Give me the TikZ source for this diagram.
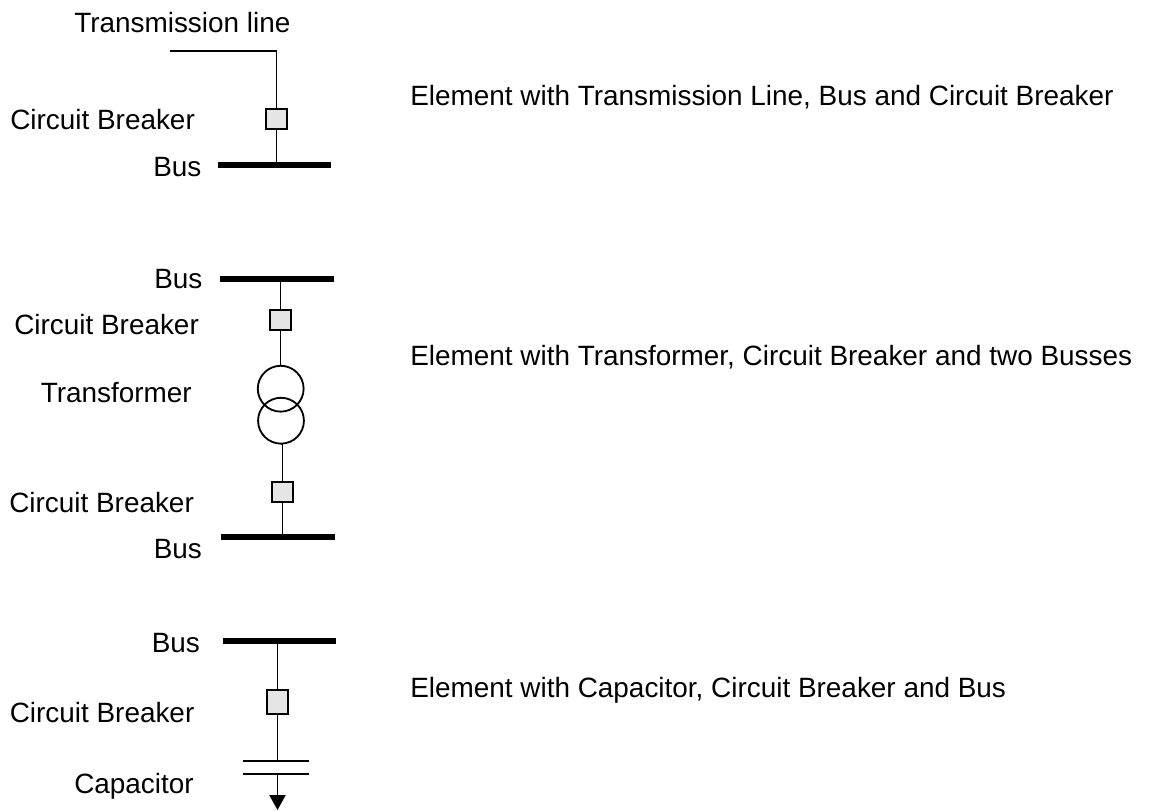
\documentclass[tikz,border=0pt]{standalone}
\usepackage{fontspec}
\setmainfont{Liberation Sans}
\usetikzlibrary{arrows.meta}
\tikzset{
  lbl/.style={anchor=base west,inner sep=0pt,font=\fontsize{19.85}{23}\selectfont},
  breaker/.style={draw,fill=black!10,line width=1.3pt,minimum width=14.6pt,minimum height=14.2pt,inner sep=0pt},
  busbar/.style={fill=black,inner sep=0pt,minimum width=80.5pt,minimum height=4pt},
  winding/.style={draw,circle,line width=1.3pt,minimum size=32.6pt,inner sep=0pt},
  wire/.style={line width=1.25pt}
}
\begin{document}
\begin{tikzpicture}[x=0.025cm,y=-0.025cm]
    \useasboundingbox (0,0) rectangle (1152,810);
    % transmission line element
    \coordinate (lineend) at (170,51);
    \coordinate (linecorner) at (276.5,51);
    \node[breaker] (cb1) at (276.5,119) {};
    \node[busbar] (bus1) at (274.5,165) {};
    \draw[wire] (lineend) -- (linecorner) -- (cb1);
    \draw[wire] (cb1) -- (cb1 |- bus1);
    \node[lbl] (t1) at (74,32.5) {Transmission line};
    \node[lbl] (c1) at (10,129) {Circuit Breaker};
    \node[lbl] (b1) at (153,176) {Bus};
    \node[lbl] (e1) at (410,105.5) {Element with Transmission Line, Bus and Circuit Breaker};
    % transformer element
    \node[busbar] (bus2) at (277,279) {};
    \node[breaker] (cb2) at (280.5,320) {};
    \node[winding] (w1) at (280.7,388.7) {};
    \node[winding] (w2) at (281,420.7) {};
    \node[breaker] (cb3) at (282.5,492) {};
    \node[busbar] (bus3) at (278,537) {};
    \draw[wire] (cb2 |- bus2) -- (cb2);
    \draw[wire] (cb2) -- (cb2 |- w1.north);
    \draw[wire] (w2.south) -- (w2.south -| cb3);
    \draw[wire] (w2.south -| cb3) -- (cb3);
    \draw[wire] (cb3) -- (cb3 |- bus3);
    \node[lbl] (b2) at (154,288) {Bus};
    \node[lbl] (c2) at (14,334) {Circuit Breaker};
    \node[lbl] (x1) at (40.5,402) {Transformer};
    \node[lbl] (e2) at (410,365) {Element with Transformer, Circuit Breaker and two Busses};
    \node[lbl] (c3) at (9,512) {Circuit Breaker};
    \node[lbl] (b3) at (153.5,558.5) {Bus};
    % capacitor element
    \node[busbar] (bus4) at (279.5,641) {};
    \node[breaker,minimum height=17pt] (cb4) at (277.5,702) {};
    \coordinate (plate1l) at (243,761);
    \coordinate (plate1r) at (309,761);
    \coordinate (plate2l) at (243,774);
    \coordinate (plate2r) at (309,774);
    \coordinate (plate1) at (277.5,761);
    \coordinate (plate2) at (277.5,774);
    \coordinate (ground) at (277.5,810);
    \draw[wire] (cb4 |- bus4) -- (cb4);
    \draw[wire] (cb4) -- (plate1);
    \draw[wire] (plate1l) -- (plate1r);
    \draw[wire] (plate2l) -- (plate2r);
    \draw[wire,-{Triangle[length=10.6pt,width=11.4pt]}] (plate2) -- (ground);
    \node[lbl] (b4) at (151.5,652) {Bus};
    \node[lbl] (c4) at (9.5,722) {Circuit Breaker};
    \node[lbl] (k1) at (74,793) {Capacitor};
    \node[lbl] (e3) at (410,697) {Element with Capacitor, Circuit Breaker and Bus};
  \end{tikzpicture}
\end{document}
